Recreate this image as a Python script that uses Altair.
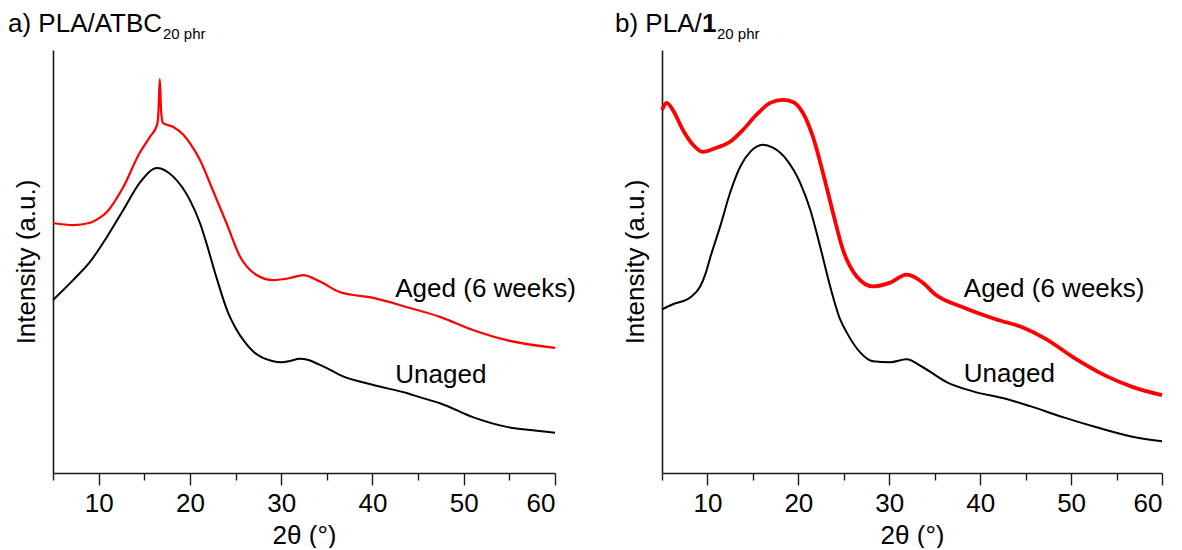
import altair as alt
import pandas as pd

FONT = "Liberation Sans"

# ---- panel a) PLA/ATBC 20 phr ----
a_unaged_x = [5.0, 7.2, 9.05, 10.9, 12.7, 14.5, 16.4, 18.2, 20.0, 21.1, 21.8, 22.9, 24.2, 25, 26, 27, 28, 29, 30, 31, 32, 33, 34, 35, 36.4, 40.1, 43.75, 45.5, 47.4, 51, 54.7, 57, 60]
a_unaged_y = [40.9, 45.6, 49.9, 55.8, 62.2, 68.6, 72.1, 70.0, 64.5, 59.1, 54.4, 46.3, 37.8, 34.3, 31.0, 28.6, 27.2, 26.5, 26.2, 26.5, 27.0, 26.7, 25.8, 24.8, 23.2, 20.8, 18.9, 17.7, 16.5, 13.2, 10.9, 10.2, 9.5]
a_aged_x = [5, 7.2, 9, 10.1, 10.9, 12.7, 14.5, 15.6, 16.4, 16.55, 16.7, 16.85, 17.05, 18.2, 19.3, 20.0, 21.1, 22.5, 24.0, 25.5, 27.3, 29.1, 31, 32.4, 34.3, 36.4, 40.1, 43.8, 47.4, 51, 54.7, 60]
a_aged_y = [59.1, 58.6, 59.1, 60.3, 61.7, 67.6, 75.7, 79.4, 82.3, 85.3, 93.1, 85.3, 82.7, 81.8, 79.9, 78.0, 74.0, 66.9, 59.1, 51.1, 46.8, 45.6, 46.1, 46.8, 45.2, 42.8, 41.4, 39.2, 36.9, 33.8, 31.4, 29.6]

# ---- panel b) PLA/1 20 phr ----
b_unaged_x = [5, 6.2, 8.1, 9.2, 9.8, 10.3, 11.4, 12.5, 13.6, 14.7, 16.1, 17.2, 18.7, 20.2, 21.3, 22.4, 23.5, 24.6, 25.3, 26.8, 28.2, 30.1, 31.9, 33.7, 36.3, 39.2, 42.9, 45.5, 49.1, 52.8, 56.5, 60]
b_unaged_y = [38.7, 39.9, 41.5, 44.1, 47.2, 50.9, 58.3, 66.3, 72.4, 75.9, 77.6, 76.9, 74.1, 68.6, 62.3, 53.5, 44.1, 36.3, 33.3, 28.5, 26.4, 26.2, 26.9, 25.0, 21.5, 19.3, 17.5, 15.8, 13.2, 10.8, 8.7, 7.5]
b_aged_x = [5, 5.5, 6.2, 7.3, 8.4, 9.5, 11, 12.5, 13.9, 15.4, 16.9, 18.3, 19.4, 20.5, 21.6, 22.7, 23.8, 24.9, 26.4, 28.2, 30.1, 31.9, 33.7, 35.0, 38.1, 41.8, 44.7, 47.3, 50.2, 53.9, 56.8, 60]
b_aged_y = [85.8, 87.5, 85.8, 81.1, 77.6, 75.9, 76.9, 78.3, 81.1, 84.7, 87.5, 88.2, 87.7, 85.1, 79.5, 71.0, 61.6, 52.8, 46.5, 44.1, 45.0, 46.9, 45.0, 42.3, 39.2, 36.3, 34.4, 31.6, 27.4, 22.9, 20.3, 18.4]

# labels
label_texts = ["Aged (6 weeks)", "Unaged"]
a_label_x = [42.5, 42.5]
a_label_y = [41.6, 21.3]
b_label_x = [38.2, 38.2]
b_label_y = [41.7, 21.5]

x_major = [10, 20, 30, 40, 50, 60]
x_minor = [5, 15, 25, 35, 45, 55]
x_domain = [5, 60]
y_domain = [0, 100]

AX = "#1a1a1a"
FS = 26


def panel(ux, uy, ax_, ay, lx, ly, title_pieces, width, red_width):
    df_u = pd.DataFrame({"x": ux, "y": uy})
    df_a = pd.DataFrame({"x": ax_, "y": ay})
    df_l = pd.DataFrame({"x": lx, "y": ly, "t": label_texts})
    xs = alt.Scale(domain=x_domain, nice=False, zero=False)
    ys = alt.Scale(domain=y_domain, nice=False, zero=False)
    xaxis = alt.Axis(values=x_major, tickSize=12, labelPadding=5, title="2θ (°)",
                     titlePadding=6, grid=False, domainColor=AX, tickColor=AX,
                     domainWidth=1.6, tickWidth=1.4, labelFont=FONT, titleFont=FONT,
                     labelFontSize=FS, titleFontSize=FS, labelColor="black",
                     titleColor="black", titleFontWeight="normal", orient="bottom")
    xminor = alt.Axis(values=x_minor, tickSize=7, labels=False, domain=False,
                      title=None, grid=False, tickColor=AX, tickWidth=1.4,
                      orient="bottom")
    yaxis = alt.Axis(ticks=False, labels=False, title="Intensity (a.u.)",
                     titlePadding=14, grid=False, domainColor=AX, domainWidth=1.6,
                     titleFont=FONT, titleFontSize=FS, titleColor="black",
                     titleFontWeight="normal")
    black = alt.Chart(df_u).mark_line(color="black", strokeWidth=2.0,
                                      interpolate="monotone").encode(
        x=alt.X("x:Q", scale=xs, axis=xaxis),
        y=alt.Y("y:Q", scale=ys, axis=yaxis))
    red = alt.Chart(df_a).mark_line(color="#ff0000", strokeWidth=red_width,
                                    interpolate="monotone").encode(
        x=alt.X("x:Q", scale=xs, axis=None),
        y=alt.Y("y:Q", scale=ys, axis=yaxis))
    labels = alt.Chart(df_l).mark_text(align="left", baseline="alphabetic",
                                       font=FONT, fontSize=FS, color="black").encode(
        x=alt.X("x:Q", scale=xs, axis=xminor),
        y=alt.Y("y:Q", scale=ys, axis=yaxis),
        text="t:N")
    layers = [black, red, labels]
    one = pd.DataFrame({"k": [0]})
    for txt, px, py, fs, fw in title_pieces:
        layers.append(
            alt.Chart(one).mark_text(align="left", baseline="alphabetic", font=FONT,
                                     fontSize=fs, fontWeight=fw, color="black").encode(
                x=alt.value(px), y=alt.value(py), text=alt.value(txt)))
    return alt.layer(*layers).resolve_axis(x="independent").properties(
        width=width, height=423)


pa = panel(a_unaged_x, a_unaged_y, a_aged_x, a_aged_y, a_label_x, a_label_y,
           [("a) PLA/ATBC", -45, -18, FS, "normal"),
            ("20 phr", 110, -11, 15, "normal")], 502, 2.2)
pb = panel(b_unaged_x, b_unaged_y, b_aged_x, b_aged_y, b_label_x, b_label_y,
           [("b) PLA/", -47, -18, FS, "normal"),
            ("1", 40, -18, FS, "bold"),
            ("20 phr", 55, -11, 15, "normal")], 500, 3.8)

chart = alt.hconcat(pa, pb, spacing=39).configure_view(stroke=None).properties(
    padding={"left": 0, "top": 3, "right": 0, "bottom": 0})

chart.save("out.html", embed_options={"renderer": "svg", "actions": False})
